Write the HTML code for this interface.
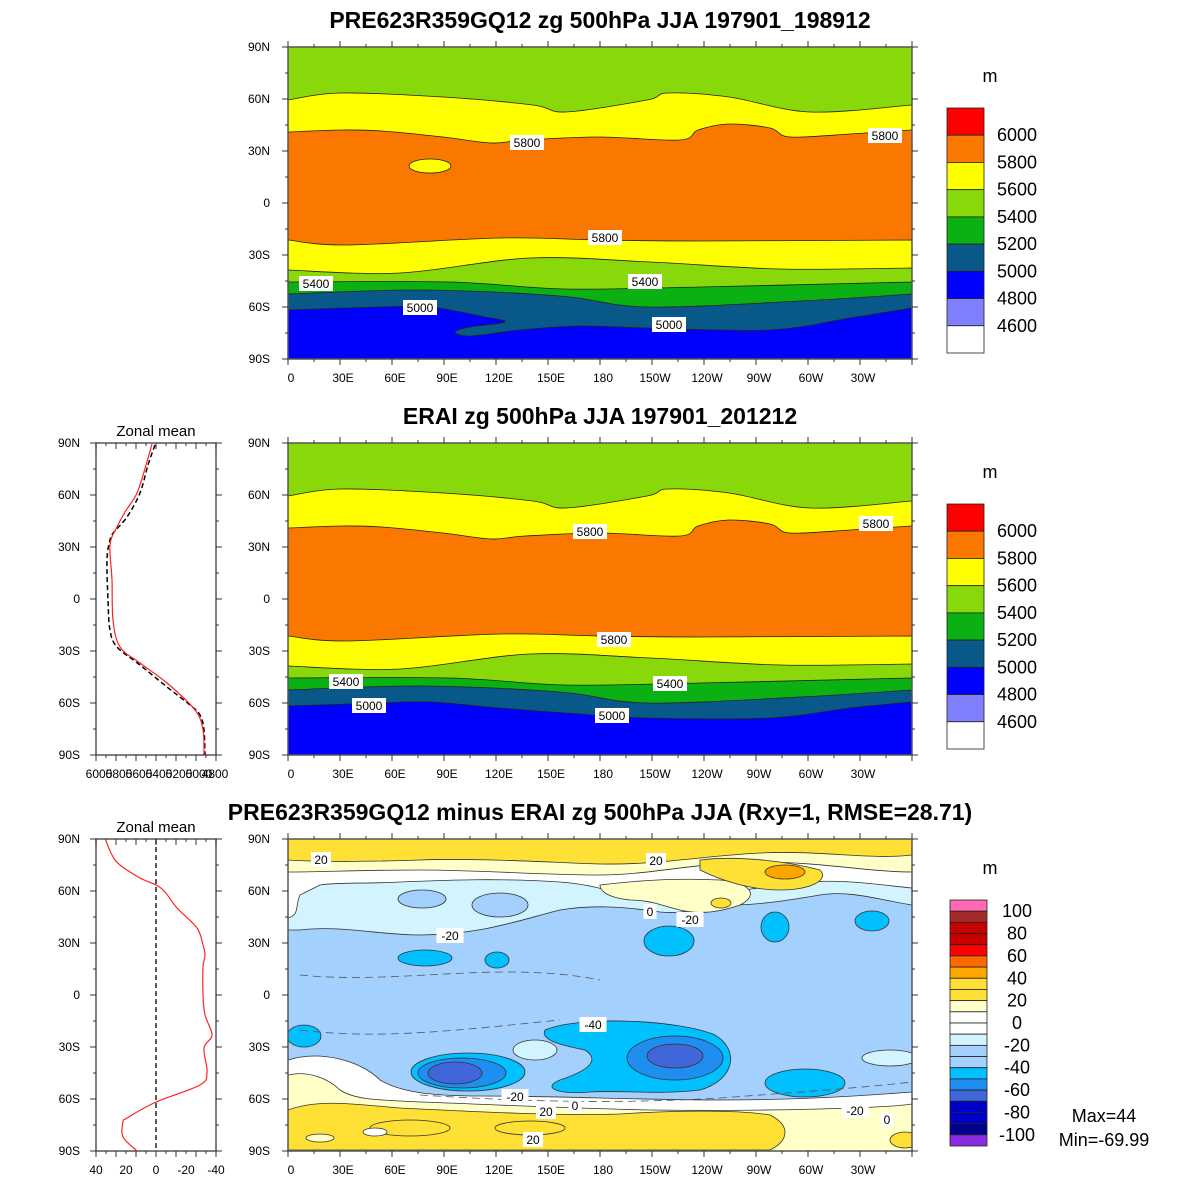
<!DOCTYPE html>
<html><head><meta charset="utf-8">
<style>
html,body{margin:0;padding:0;background:#fff;}
svg{display:block;font-family:"Liberation Sans",sans-serif;}
</style></head>
<body>
<svg id="s" width="1200" height="1200" viewBox="0 0 1200 1200" xmlns="http://www.w3.org/2000/svg">
<rect width="1200" height="1200" fill="#fff"/>
<defs>
<clipPath id="c1"><rect x="288" y="47" width="624" height="312"/></clipPath>
<clipPath id="c2"><rect x="288" y="443" width="624" height="312"/></clipPath>
<clipPath id="c3"><rect x="288" y="839" width="624" height="312"/></clipPath>
</defs>
<g id="g"></g>
</svg>
<script>
var o='';
function smooth(p){
  var d='M'+p[0][0]+','+p[0][1];
  for(var i=0;i<p.length-1;i++){
    var p0=p[i>0?i-1:i],p1=p[i],p2=p[i+1],p3=p[i+2<p.length?i+2:i+1];
    var c1x=p1[0]+(p2[0]-p0[0])/6,c1y=p1[1]+(p2[1]-p0[1])/6;
    var c2x=p2[0]-(p3[0]-p1[0])/6,c2y=p2[1]-(p3[1]-p1[1])/6;
    d+=' C'+c1x.toFixed(1)+','+c1y.toFixed(1)+' '+c2x.toFixed(1)+','+c2y.toFixed(1)+' '+p2[0]+','+p2[1];
  }
  return d;
}
function band(pts,dy,bot,fill){
  var q=pts.map(function(p){return [p[0],p[1]+dy]});
  var d=smooth(q)+' L912,'+bot+' L288,'+bot+' Z';
  o+='<path d="'+d+'" fill="'+fill+'" stroke="#222" stroke-width="0.8" stroke-linejoin="round"/>';
}
function mapPanel(dy,clip,tongue){
  var bot=359+dy;
  o+='<g clip-path="url(#'+clip+')">';
  o+='<rect x="288" y="'+(47+dy)+'" width="624" height="312" fill="#88d80a"/>';
  band([[288,100],[341,93],[443,97],[533,105],[566,112],[647,100],[668,93],[729,97],[810,112],[912,105]],dy,bot,'#ffff00');
  band([[288,132],[341,130],[382,131],[443,137],[491,143],[525,140],[600,137],[680,140],[698,130],[729,124],[770,128],[790,137],[850,134],[912,130]],dy,bot,'#fa7800');
  if(tongue) o+='<ellipse cx="430" cy="'+(166+dy)+'" rx="21" ry="7" fill="#ffff00" stroke="#222" stroke-width="0.8"/>';
  band([[288,240],[347,245],[500,238],[600,240],[700,241],[912,240]],dy,bot,'#ffff00');
  band([[288,270],[400,273],[530,258],[650,262],[780,269],[912,268]],dy,bot,'#88d80a');
  band([[288,282],[450,282],[566,289],[700,287],[912,282]],dy,bot,'#0bb012');
  band([[288,294],[420,290],[560,296],[647,307],[800,301],[912,294]],dy,bot,'#08588a');
  if(tongue) band([[288,310],[380,307],[430,307],[480,316],[505,322],[470,327],[455,332],[470,336],[520,330],[580,326],[647,328],[770,330],[850,318],[912,308]],dy,bot,'#0000ff');
  else band([[288,310],[380,307],[430,306],[500,312],[580,318],[647,322],[770,322],[850,312],[912,306]],dy,bot,'#0000ff');
  o+='</g>';
}
function ell(cx,cy,rx,ry,f,s){o+='<ellipse cx="'+cx+'" cy="'+cy+'" rx="'+rx+'" ry="'+ry+'" fill="'+f+'" stroke="'+(s||'#333')+'" stroke-width="0.8"/>';}
function axes(dy){
  var y0=47+dy,y1=359+dy;
  o+='<rect x="288" y="'+y0+'" width="624" height="312" fill="none" stroke="#555" stroke-width="1.5"/>';
  var lon=['0','30E','60E','90E','120E','150E','180','150W','120W','90W','60W','30W'];
  for(var i=0;i<=24;i++){var x=288+i*26;var L=i%2?3:6;
    o+='<line x1="'+x+'" y1="'+y1+'" x2="'+x+'" y2="'+(y1+L)+'" stroke="#333"/>';
    o+='<line x1="'+x+'" y1="'+y0+'" x2="'+x+'" y2="'+(y0-L)+'" stroke="#333"/>';
    if(i%2==0&&i<24)o+='<text x="'+(x+3)+'" y="'+(y1+23)+'" font-size="12" text-anchor="middle">'+lon[i/2]+'</text>';}
  var lat=['90N','60N','30N','0','30S','60S','90S'];
  for(var j=0;j<=12;j++){var y=y0+j*26;var L=j%2?3:6;
    o+='<line x1="288" y1="'+y+'" x2="'+(288-L)+'" y2="'+y+'" stroke="#333"/>';
    o+='<line x1="912" y1="'+y+'" x2="'+(912+L)+'" y2="'+y+'" stroke="#333"/>';
    if(j%2==0)o+='<text x="270" y="'+(y+4)+'" font-size="12" text-anchor="end">'+lat[j/2]+'</text>';}
}
function lbl(x,y,t){var w=t.length*7+6;o+='<rect x="'+(x-w/2)+'" y="'+(y-8)+'" width="'+w+'" height="15" fill="#fff"/><text x="'+x+'" y="'+(y+4)+'" font-size="12" text-anchor="middle">'+t+'</text>';}
function cbar(x,y0,h,cols,labs,labStep,fs,lx){
  var bh=h/cols.length;
  for(var i=0;i<cols.length;i++)o+='<rect x="'+x+'" y="'+(y0+i*bh)+'" width="37" height="'+bh+'" fill="'+cols[i]+'" stroke="#222" stroke-width="0.8"/>';
  for(var k=0;k<labs.length;k++){var yy=y0+bh*(1+k*labStep);o+='<text x="'+lx+'" y="'+(yy+6)+'" font-size="'+fs+'" text-anchor="middle">'+labs[k]+'</text>';}
}
function zonal(dy,xt){
  var y0=47+dy,y1=359+dy;
  o+='<rect x="96" y="'+y0+'" width="120" height="312" fill="none" stroke="#555" stroke-width="1.5"/>';
  var lat=['90N','60N','30N','0','30S','60S','90S'];
  for(var j=0;j<=12;j++){var y=y0+j*26;var L=j%2?3:6;
    o+='<line x1="96" y1="'+y+'" x2="'+(96-L)+'" y2="'+y+'" stroke="#333"/>';
    o+='<line x1="216" y1="'+y+'" x2="'+(216+L)+'" y2="'+y+'" stroke="#333"/>';
    if(j%2==0)o+='<text x="80" y="'+(y+4)+'" font-size="12" text-anchor="end">'+lat[j/2]+'</text>';}
  for(var i=0;i<=12;i++){var x=96+i*10;var L=i%2?3:6;
    o+='<line x1="'+x+'" y1="'+y1+'" x2="'+x+'" y2="'+(y1+L)+'" stroke="#333"/>';
    o+='<line x1="'+x+'" y1="'+y0+'" x2="'+x+'" y2="'+(y0+L)+'" stroke="#333"/>';}
  o+='<text x="156" y="'+(y0-7)+'" font-size="15" text-anchor="middle">Zonal mean</text>';
  for(var k=0;k<xt.length;k++)o+='<text x="'+xt[k][0]+'" y="'+(y1+23)+'" font-size="12" text-anchor="middle">'+xt[k][1]+'</text>';
}
function line(pts,col,dash,w){o+='<path d="'+smooth(pts)+'" fill="none" stroke="'+col+'" stroke-width="'+w+'"'+(dash?' stroke-dasharray="'+dash+'"':'')+'/>';}

/* titles */
o+='<text x="600" y="28" font-size="23" font-weight="bold" text-anchor="middle">PRE623R359GQ12 zg 500hPa JJA 197901_198912</text>';
o+='<text x="600" y="424" font-size="23" font-weight="bold" text-anchor="middle">ERAI zg 500hPa JJA 197901_201212</text>';
o+='<text x="600" y="820" font-size="23" font-weight="bold" text-anchor="middle">PRE623R359GQ12 minus ERAI zg 500hPa JJA (Rxy=1, RMSE=28.71)</text>';

/* top & middle */
mapPanel(0,'c1',true);axes(0);
lbl(527,143,'5800');lbl(885,136,'5800');lbl(605,238,'5800');lbl(316,284,'5400');lbl(645,282,'5400');lbl(420,308,'5000');lbl(669,325,'5000');
mapPanel(396,'c2',false);axes(396);
lbl(590,532,'5800');lbl(876,524,'5800');lbl(614,640,'5800');lbl(346,682,'5400');lbl(670,684,'5400');lbl(369,706,'5000');lbl(612,716,'5000');

var zc=['#ff0000','#fa7800','#ffff00','#88d80a','#0bb012','#08588a','#0000ff','#8080ff','#ffffff'];
var zl=['6000','5800','5600','5400','5200','5000','4800','4600'];
o+='<text x="990" y="82" font-size="18" text-anchor="middle">m</text>';
cbar(947,108,245,zc,zl,1,18,1017);
o+='<text x="990" y="478" font-size="18" text-anchor="middle">m</text>';
cbar(947,504,245,zc,zl,1,18,1017);

/* bottom diff map */
o+='<g clip-path="url(#c3)">';
o+='<rect x="288" y="839" width="624" height="312" fill="#a4d0fd"/>';
o+='<path d="M288,839 L912,839 L912,905 C880,900 850,890 820,895 C790,900 760,905 730,905 C700,905 690,915 660,912 C620,906 590,905 560,910 C520,920 480,935 420,935 C380,935 340,925 300,930 L288,930 Z" fill="#d2f4ff" stroke="#333" stroke-width="0.8"/>';
o+='<path d="M288,839 L912,839 L912,888 C880,885 840,878 800,883 C760,888 730,890 700,900 C680,906 660,905 640,900 C620,895 600,885 560,882 C500,878 450,880 400,882 C360,884 340,882 320,885 L300,895 C295,905 300,915 288,918 Z" fill="#ffffff" stroke="#333" stroke-width="0.8"/>';
o+='<path d="M600,885 C640,880 680,878 720,880 C750,882 760,895 740,905 C720,912 700,915 680,910 C660,905 650,900 630,900 C610,898 600,892 600,885 Z" fill="#ffffc8" stroke="#333" stroke-width="0.8"/>';
o+='<path d="M288,839 L912,839 L912,872 C870,872 820,862 760,862 C700,862 650,875 600,875 C540,875 480,870 420,870 C360,870 320,872 288,872 Z" fill="#ffffc8" stroke="#333" stroke-width="0.8"/>';
o+='<path d="M288,839 L912,839 L912,855 C870,860 820,850 760,853 C700,856 660,865 600,864 C540,862 480,858 420,860 C360,862 320,862 288,860 Z" fill="#ffe035" stroke="#333" stroke-width="0.8"/>';
o+='<path d="M700,860 C740,855 790,862 820,870 C830,880 810,890 780,890 C750,890 720,880 700,870 Z" fill="#ffe035" stroke="#333" stroke-width="0.8"/>';
ell(785,872,20,7,'#ffa500');ell(721,903,10,5,'#ffe035');
ell(422,899,24,9,'#a4d0fd');ell(500,905,28,12,'#a4d0fd');
/* blobs */
ell(669,941,25,15,'#00c0ff');ell(775,927,14,15,'#00c0ff');ell(872,921,17,10,'#00c0ff');
ell(425,958,27,8,'#00c0ff');ell(497,960,12,8,'#00c0ff');ell(304,1036,17,11,'#00c0ff');
ell(535,1050,22,10,'#d2f4ff');ell(890,1058,28,8,'#d2f4ff');
ell(468,1072,57,19,'#00c0ff');ell(462,1073,44,15,'#1e8ff0');ell(455,1073,27,11,'#4066da');
o+='<path d="M545,1030 C580,1015 680,1020 715,1035 C740,1050 735,1080 700,1090 C660,1095 620,1090 590,1092 C560,1095 540,1088 560,1080 C590,1070 600,1060 585,1050 C560,1045 540,1040 545,1030 Z" fill="#00c0ff" stroke="#333" stroke-width="0.8"/>';
ell(675,1058,48,22,'#1e8ff0');ell(675,1056,28,12,'#4066da');
ell(805,1083,40,14,'#00c0ff');
/* southern white/yellow */
o+='<path d="M288,1060 C320,1050 360,1060 380,1080 C400,1092 430,1096 480,1096 C560,1096 640,1100 720,1100 C800,1100 860,1096 912,1092 L912,1151 L288,1151 Z" fill="#ffffff" stroke="#333" stroke-width="0.8"/>';
o+='<path d="M288,1075 C310,1070 330,1080 340,1090 C355,1100 380,1100 420,1102 C480,1104 560,1108 650,1110 C720,1111 800,1110 850,1108 C880,1107 900,1106 912,1104 L912,1151 L288,1151 Z" fill="#ffffc8" stroke="#333" stroke-width="0.8"/>';
o+='<path d="M288,1110 C320,1098 360,1105 400,1108 C480,1112 560,1116 620,1114 C680,1110 740,1110 770,1115 C790,1125 790,1140 770,1150 L288,1150 Z" fill="#ffe035" stroke="#333" stroke-width="0.8"/>';
ell(410,1128,40,8,'#ffe035');ell(530,1128,35,7,'#ffe035');
ell(905,1140,15,8,'#ffe035');
ell(320,1138,14,4,'#ffffc8');ell(375,1132,12,4,'#fff');
o+='</g>';
/* dashed contours hints */
o+='<path d="M300,975 C400,985 500,960 600,980" fill="none" stroke="#555" stroke-dasharray="8,5" stroke-width="0.8"/>';
o+='<path d="M300,1030 C380,1040 460,1030 560,1020" fill="none" stroke="#555" stroke-dasharray="8,5" stroke-width="0.8"/>';
o+='<path d="M420,1095 C500,1100 600,1105 720,1098 C800,1092 860,1088 912,1082" fill="none" stroke="#555" stroke-dasharray="8,5" stroke-width="0.8"/>';
axes(792);
lbl(321,860,'20');lbl(656,861,'20');lbl(650,912,'0');lbl(690,920,'-20');lbl(450,936,'-20');lbl(593,1025,'-40');
lbl(515,1097,'-20');lbl(546,1112,'20');lbl(575,1106,'0');lbl(533,1140,'20');lbl(855,1111,'-20');lbl(887,1120,'0');

var dc=['#ff69b4','#a52a2a','#c80000','#c80000','#ff0000','#ff6a00','#ffa500','#ffde35','#ffde35','#ffffc8','#ffffff','#ffffff','#d2f4ff','#a4d0fd','#a4d0fd','#00c0ff','#1e8ff0','#4066da','#0000c8','#0000c8','#00008b','#8a2be2'];
var dl=['100','80','60','40','20','0','-20','-40','-60','-80','-100'];
o+='<text x="990" y="874" font-size="18" text-anchor="middle">m</text>';
cbar(950,900,246,dc,dl,2,18,1017);
o+='<text x="1104" y="1122" font-size="18" text-anchor="middle">Max=44</text>';
o+='<text x="1104" y="1146" font-size="18" text-anchor="middle">Min=-69.99</text>';

/* zonal panels */
zonal(396,[[99,'6000'],[119,'5800'],[139,'5600'],[159,'5400'],[179,'5200'],[199,'5000'],[215,'4800']]);
line([[155,445],[148,465],[140,493],[127,517],[114,532],[110,540],[107,560],[108,600],[110,630],[117,647],[140,665],[167,687],[190,705],[200,715],[204,730],[205,755]],'#000','5,3',1.5);
line([[152,444],[146,465],[137,493],[125,512],[117,527],[110,545],[112,580],[113,620],[120,647],[140,663],[167,683],[195,710],[203,730],[204,755]],'#f22',null,1.2);
zonal(792,[[96,'40'],[126,'20'],[156,'0'],[186,'-20'],[216,'-40']]);
o+='<line x1="156" y1="839" x2="156" y2="1151" stroke="#222" stroke-width="1.5" stroke-dasharray="5,3"/>';
line([[106,841],[112,855],[120,865],[140,878],[156,885],[165,892],[177,908],[197,928],[203,945],[205,955],[203,967],[203,995],[205,1015],[212,1035],[204,1048],[207,1072],[200,1085],[156,1102],[127,1118],[123,1122],[123,1137],[137,1151]],'#f22',null,1.2);

document.getElementById('g').innerHTML=o;
</script>
</body></html>
